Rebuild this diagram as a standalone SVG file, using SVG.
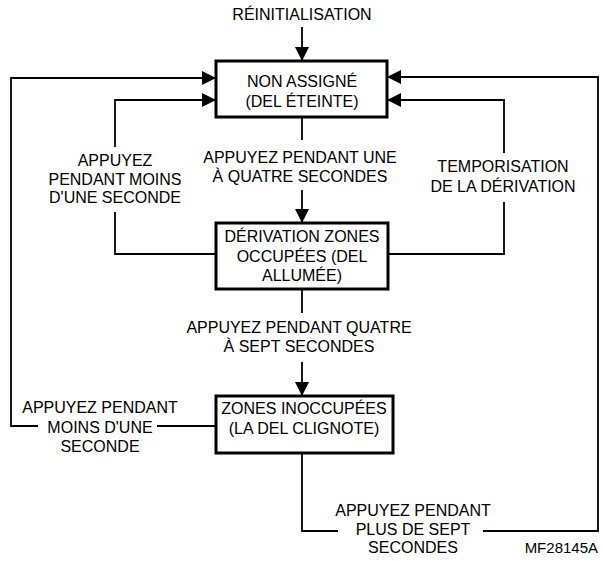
<svg xmlns="http://www.w3.org/2000/svg" width="603" height="561" viewBox="0 0 603 561">
<style>
text{font-family:"Liberation Sans",Arial,sans-serif;font-size:16px;fill:#000;text-anchor:middle}
.box{fill:#fff;stroke:#000;stroke-width:3}
.c{fill:none;stroke:#000;stroke-width:1.8}
.a{marker-end:url(#ah)}
.id{font-size:15px;text-anchor:end}
</style>
<defs>
<marker id="ah" markerUnits="userSpaceOnUse" markerWidth="14" markerHeight="14" refX="13" refY="7" orient="auto">
<path d="M0,0 L14,7 L0,14 z" fill="#000"/>
</marker>
</defs>
<rect width="603" height="561" fill="#fff"/>
<g id="connectors">
<path class="c a" d="M302,27 V60"/>
<path class="c a" d="M38,426 H11 V78 H215"/>
<path class="c a" d="M115,147 V100 H215"/>
<path class="c" d="M115,212 V254 H216"/>
<path class="c a" d="M483,531 H598 V77 H388"/>
<path class="c a" d="M504,153 V100 H388"/>
<path class="c" d="M504,202 V254 H388"/>
<path class="c" d="M302,117 V140"/>
<path class="c a" d="M302,190 V222"/>
<path class="c" d="M302,289 V313"/>
<path class="c a" d="M302,362 V395"/>
<path class="c" d="M157,426 H216"/>
<path class="c" d="M302,453 V531 H338"/>
</g>
<g id="reset"><text x="302" y="20">RÉINITIALISATION</text></g>
<g id="n1">
<rect class="box" x="216" y="61" width="171" height="56"/>
<text x="302" y="87">NON ASSIGNÉ</text>
<text x="302" y="107">(DEL ÉTEINTE)</text>
</g>
<g id="n2">
<rect class="box" x="216" y="223" width="172" height="66"/>
<text x="302" y="242">DÉRIVATION ZONES</text>
<text x="302" y="261.5">OCCUPÉES (DEL</text>
<text x="302" y="281">ALLUMÉE)</text>
</g>
<g id="n3">
<rect class="box" x="216" y="396" width="177" height="57"/>
<text x="304" y="414">ZONES INOCCUPÉES</text>
<text x="304" y="434">(LA DEL CLIGNOTE)</text>
</g>
<g id="labels">
<text x="300" y="163">APPUYEZ PENDANT UNE</text>
<text x="300" y="182">À QUATRE SECONDES</text>
<text x="115" y="166">APPUYEZ</text>
<text x="115" y="184.5">PENDANT MOINS</text>
<text x="115" y="203">D'UNE SECONDE</text>
<text x="503" y="172">TEMPORISATION</text>
<text x="503" y="192">DE LA DÉRIVATION</text>
<text x="299" y="333">APPUYEZ PENDANT QUATRE</text>
<text x="299" y="352">À SEPT SECONDES</text>
<text x="100" y="413">APPUYEZ PENDANT</text>
<text x="100" y="433">MOINS D'UNE</text>
<text x="100" y="452">SECONDE</text>
<text x="413" y="516">APPUYEZ PENDANT</text>
<text x="413" y="534.5">PLUS DE SEPT</text>
<text x="413" y="553">SECONDES</text>
<text class="id" x="598" y="553">MF28145A</text>
</g>
</svg>
